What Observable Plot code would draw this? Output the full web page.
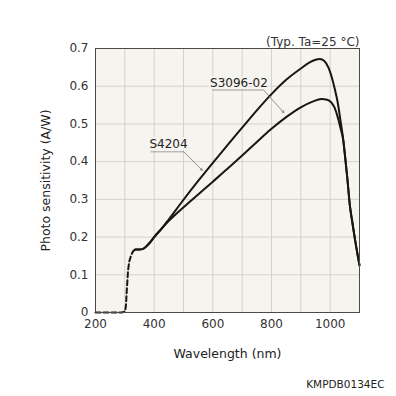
<!DOCTYPE html>
<html>
<head>
<meta charset="utf-8">
<script src="https://cdn.jsdelivr.net/npm/d3@7"></script>
<script src="https://cdn.jsdelivr.net/npm/@observablehq/plot@0.6"></script>
<style>
  html, body { margin: 0; padding: 0; background: #ffffff; }
  #chart { width: 396px; height: 396px; }
</style>
</head>
<body>
<div id="chart"></div>
<script>
// ---- data ----
const xTicks = [200, 400, 600, 800, 1000];
const xGrid = [300, 400, 500, 600, 700, 800, 900, 1000];
const yTicks = [0, 0.1, 0.2, 0.3, 0.4, 0.5, 0.6, 0.7];

// common dashed low-wavelength part (both sensors)
const dashedWl  = [200, 230, 260, 290, 301, 304, 306, 308, 311, 315, 320, 325, 330, 336];
const dashedVal = [0, 0, 0, 0, 0.003, 0.02, 0.05, 0.075, 0.112, 0.135, 0.148, 0.158, 0.164, 0.167];

// S4204 (upper curve)
const s4204Wl  = [336, 350, 360, 370, 385, 400, 425, 450, 475, 500, 550, 600, 650, 700, 750, 800, 850, 900, 930, 950, 965, 980, 995, 1005, 1015, 1025, 1035, 1045, 1050, 1058, 1067, 1075, 1085, 1100];
const s4204Val = [0.167, 0.167, 0.168, 0.173, 0.185, 0.2, 0.222, 0.247, 0.273, 0.299, 0.349, 0.397, 0.444, 0.49, 0.536, 0.579, 0.617, 0.647, 0.663, 0.67, 0.672, 0.667, 0.648, 0.625, 0.595, 0.56, 0.51, 0.455, 0.42, 0.36, 0.285, 0.242, 0.192, 0.125];

// S3096-02 (lower curve)
const s3096Wl  = [336, 350, 360, 370, 385, 400, 425, 450, 500, 550, 600, 650, 700, 750, 800, 850, 900, 940, 970, 990, 1005, 1015, 1025, 1035, 1045, 1050, 1058, 1067, 1075, 1085, 1100];
const s3096Val = [0.167, 0.167, 0.168, 0.173, 0.185, 0.2, 0.222, 0.243, 0.279, 0.313, 0.347, 0.381, 0.416, 0.452, 0.487, 0.518, 0.544, 0.559, 0.566, 0.564, 0.556, 0.543, 0.52, 0.49, 0.455, 0.42, 0.36, 0.285, 0.242, 0.192, 0.125];

// annotation labels and leader lines (data coordinates)
const labelNames = ["S4204", "S3096-02"];
const labelWl    = [449, 689];
const labelVal   = [0.447, 0.609];
const underlineFromWl = [388, 598];
const underlineToWl   = [501, 773];
const underlineVal    = [0.426, 0.590];
const leaderToWl  = [564, 842];
const leaderToVal = [0.377, 0.530];

const bg = "#f6f4ee";
const grid = "#d3d2cc";
const ink = "#1a1412";

const toPts = (xs, ys) => xs.map((x, i) => ({x, y: ys[i]}));
const dashed = toPts(dashedWl, dashedVal);
const upper = toPts(s4204Wl, s4204Val);
const lower = toPts(s3096Wl, s3096Val);
const labels = labelNames.map((name, i) => ({
  name, x: labelWl[i], y: labelVal[i],
  ux1: underlineFromWl[i], ux2: underlineToWl[i], uy: underlineVal[i],
  lx: leaderToWl[i], ly: leaderToVal[i]
}));

const chart = Plot.plot({
  width: 396,
  height: 396,
  marginLeft: 95,
  marginRight: 37,
  marginTop: 48,
  marginBottom: 84,
  style: {fontFamily: "DejaVu Sans", fontSize: "12px", color: "#333", background: "#ffffff"},
  x: {domain: [200, 1100]},
  y: {domain: [0, 0.7]},
  marks: [
    Plot.frame({fill: bg, stroke: "none"}),
    Plot.gridX(xGrid, {stroke: grid, strokeOpacity: 1, strokeWidth: 1}),
    Plot.gridY(yTicks, {stroke: grid, strokeOpacity: 1, strokeWidth: 1}),
    Plot.axisX(xTicks, {tickSize: 0, tickPadding: 7, label: null, fontSize: 12, fill: "#333",
      tickFormat: d => String(d)}),
    Plot.axisY(yTicks, {tickSize: 0, tickPadding: 7, label: null, fontSize: 12, fill: "#333",
      tickFormat: d => d === 0 ? "0" : d.toFixed(1)}),
    Plot.line(dashed, {x: "x", y: "y", stroke: ink, strokeWidth: 2, strokeDasharray: "5,3"}),
    Plot.line(lower, {x: "x", y: "y", stroke: ink, strokeWidth: 2, curve: "monotone-x"}),
    Plot.line(upper, {x: "x", y: "y", stroke: ink, strokeWidth: 2, curve: "monotone-x"}),
    Plot.link(labels, {x1: "ux1", x2: "ux2", y1: "uy", y2: "uy", stroke: "#888", strokeWidth: 0.8}),
    Plot.arrow(labels, {x1: "ux2", y1: "uy", x2: "lx", y2: "ly", stroke: "#777", strokeWidth: 0.8, headLength: 4}),
    Plot.text(labels, {x: "x", y: "y", text: "name", fontSize: 12, fill: "#222", stroke: bg, strokeWidth: 4}),
    Plot.frame({stroke: "#4a4a4a", strokeWidth: 1}),
    Plot.text(["(Typ. Ta=25 °C)"], {frameAnchor: "top-right", dy: -3, textAnchor: "end", lineAnchor: "bottom", fontSize: 12, fill: "#333"}),
    Plot.text(["Photo sensitivity (A/W)"], {frameAnchor: "left", dx: -50, textAnchor: "middle", rotate: -90, fontSize: 12.5, fill: "#222"}),
    Plot.text(["Wavelength (nm)"], {frameAnchor: "bottom", dy: 45, fontSize: 12.5, fill: "#222"}),
    Plot.text(["KMPDB0134EC"], {frameAnchor: "bottom-right", dx: 25, dy: 75, textAnchor: "end", fontSize: 10.5, fill: "#222"})
  ]
});
document.getElementById("chart").appendChild(chart);
</script>
</body>
</html>
